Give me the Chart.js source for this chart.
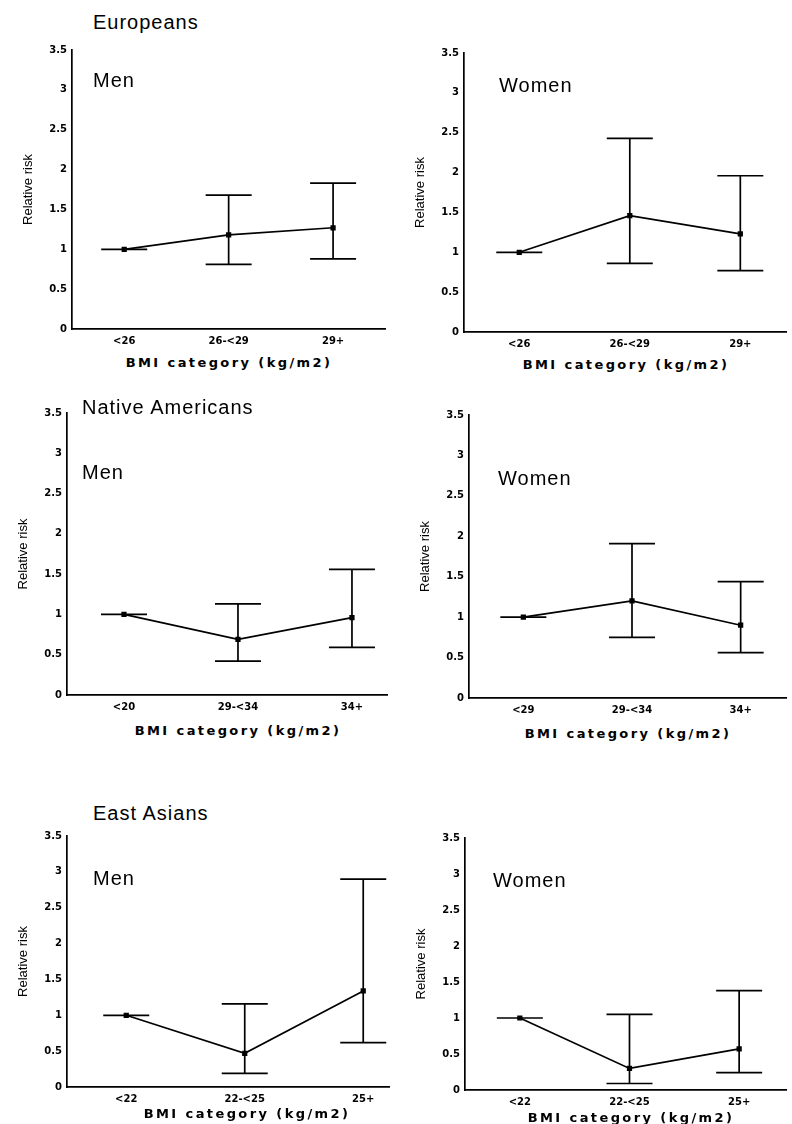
<!DOCTYPE html>
<html><head><meta charset="utf-8">
<script src="https://cdn.jsdelivr.net/npm/chart.js@4.4.1/dist/chart.umd.min.js"></script>
<style>
html,body{margin:0;padding:0;background:#fff;}
body{width:792px;height:1124px;position:relative;overflow:hidden;}
canvas{position:absolute;}
.t{position:absolute;font-family:"Liberation Sans",Arial,sans-serif;font-size:20px;color:#000;letter-spacing:1px;line-height:1;white-space:nowrap;transform:translateY(-50%);}
.xt{position:absolute;font-family:"DejaVu Sans",sans-serif;font-weight:bold;font-size:13px;letter-spacing:2.4px;color:#000;white-space:nowrap;transform:translate(-50%,-50%);line-height:1;}
</style></head><body>
<script>
// ---- data ----
const yTickValues = [0, 0.5, 1, 1.5, 2, 2.5, 3, 3.5];
const yTickLabels = ['0', '0.5', '1', '1.5', '2', '2.5', '3', '3.5'];

const eurCats = ['<26', '26-<29', '29+'];
const eurMenRR = [1.0, 1.18, 1.27];
const eurMenLo = [1.0, 0.81, 0.88];
const eurMenHi = [1.0, 1.68, 1.83];
const eurWomenRR = [1.0, 1.46, 1.23];
const eurWomenLo = [1.0, 0.86, 0.77];
const eurWomenHi = [1.0, 2.43, 1.96];

const naMenCats = ['<20', '29-<34', '34+'];
const naMenRR = [1.0, 0.69, 0.96];
const naMenLo = [1.0, 0.42, 0.59];
const naMenHi = [1.0, 1.13, 1.56];
const naWomenCats = ['<29', '29-<34', '34+'];
const naWomenRR = [1.0, 1.20, 0.90];
const naWomenLo = [1.0, 0.75, 0.56];
const naWomenHi = [1.0, 1.91, 1.44];

const eaCats = ['<22', '22-<25', '25+'];
const eaMenRR = [1.0, 0.47, 1.34];
const eaMenLo = [1.0, 0.19, 0.62];
const eaMenHi = [1.0, 1.16, 2.90];
const eaWomenRR = [1.0, 0.30, 0.57];
const eaWomenLo = [1.0, 0.09, 0.24];
const eaWomenHi = [1.0, 1.05, 1.38];

const xTitle = 'BMI category (kg/m2)';
const yTitle = 'Relative risk';

// ---- error bar plugin (uses chart scales) ----
const errorBars = {
  id: 'errorBars',
  afterDatasetsDraw(chart, args, opts) {
    const {ctx, scales: {x, y}} = chart;
    const cw = opts.capHalf || 23;
    chart.data.datasets.forEach(ds => {
      if (!ds.errLo) return;
      ctx.save();
      ctx.strokeStyle = '#000';
      ctx.lineWidth = 1.7;
      ds.errLo.forEach((lo, i) => {
        const hi = ds.errHi[i];
        const px = x.getPixelForValue(i);
        const pl = y.getPixelForValue(lo), ph = y.getPixelForValue(hi);
        ctx.beginPath();
        ctx.moveTo(px, pl); ctx.lineTo(px, ph);
        ctx.moveTo(px - cw, pl); ctx.lineTo(px + cw, pl);
        ctx.moveTo(px - cw, ph); ctx.lineTo(px + cw, ph);
        ctx.stroke();
      });
      ctx.restore();
    });
  }
};

function addText(cls, txt, left, top) {
  const d = document.createElement('div');
  d.className = cls; d.textContent = txt;
  d.style.left = left + 'px'; d.style.top = top + 'px';
  document.body.appendChild(d);
}

function makePanel(p) {
  const cv = document.createElement('canvas');
  cv.width = p.w; cv.height = p.h;
  cv.style.left = p.left + 'px'; cv.style.top = p.top + 'px';
  cv.style.width = p.w + 'px'; cv.style.height = p.h + 'px';
  document.body.appendChild(cv);
  new Chart(cv.getContext('2d'), {
    type: 'line',
    data: {
      datasets: [{
        data: p.rr.map((v, i) => ({x: i, y: v})),
        errLo: p.lo, errHi: p.hi,
        borderColor: '#000', borderWidth: 1.7,
        pointStyle: 'rect', pointRadius: 2.5,
        pointBackgroundColor: '#000', pointBorderColor: '#000',
        tension: 0, clip: false
      }]
    },
    options: {
      responsive: false, animation: false, devicePixelRatio: 1,
      layout: {padding: {top: 8, left: 0, right: 0, bottom: 0}},
      plugins: {legend: {display: false}, tooltip: {enabled: false}, errorBars: {capHalf: 23}},
      scales: {
        x: {
          type: 'linear', min: -0.5, max: p.xmax,
          afterBuildTicks: s => { s.ticks = [0, 1, 2].map(v => ({value: v})); },
          afterFit: s => { s.height = 24; },
          grid: {display: false, drawTicks: false},
          border: {display: true, color: '#000', width: 1.7},
          ticks: {
            color: '#000', padding: 6, maxRotation: 0, autoSkip: false,
            font: {family: 'DejaVu Sans', weight: 'bold', size: 10},
            callback: v => p.cats[v]
          }
        },
        y: {
          min: 0, max: 3.5,
          afterBuildTicks: s => { s.ticks = yTickValues.map(v => ({value: v})); },
          afterFit: s => { s.width = 55; },
          grid: {display: false, drawTicks: false},
          border: {display: true, color: '#000', width: 1.7},
          title: {display: true, text: yTitle, color: '#000',
            font: {family: '"Liberation Sans", Arial', size: 13}},
          ticks: {
            color: '#000', padding: 5,
            font: {family: 'DejaVu Sans', weight: 'bold', size: 10},
            callback: v => yTickLabels[yTickValues.indexOf(v)]
          }
        }
      }
    },
    plugins: [errorBars]
  });
  addText('xt', xTitle, p.xtX, p.xtY);
}

makePanel({left: 17, top: 39, w: 374, h: 314, xmax: 2.5, cats: eurCats, rr: eurMenRR, lo: eurMenLo, hi: eurMenHi, xtX: 229, xtY: 362});
makePanel({left: 409, top: 42, w: 383, h: 314, xmax: 2.416, cats: eurCats, rr: eurWomenRR, lo: eurWomenLo, hi: eurWomenHi, xtX: 626, xtY: 364});
makePanel({left: 12, top: 402, w: 381, h: 317, xmax: 2.31, cats: naMenCats, rr: naMenRR, lo: naMenLo, hi: naMenHi, xtX: 238, xtY: 730});
makePanel({left: 414, top: 404, w: 378, h: 318, xmax: 2.42, cats: naWomenCats, rr: naWomenRR, lo: naWomenLo, hi: naWomenHi, xtX: 628, xtY: 733});
makePanel({left: 12, top: 825, w: 383, h: 286, xmax: 2.22, cats: eaCats, rr: eaMenRR, lo: eaMenLo, hi: eaMenHi, xtX: 247, xtY: 1113});
makePanel({left: 410, top: 827, w: 382, h: 287, xmax: 2.43, cats: eaCats, rr: eaWomenRR, lo: eaWomenLo, hi: eaWomenHi, xtX: 631, xtY: 1117});

addText('t', 'Europeans', 93, 22);
addText('t', 'Men', 93, 80);
addText('t', 'Women', 499, 85);
addText('t', 'Native  Americans', 82, 407);
addText('t', 'Men', 82, 472);
addText('t', 'Women', 498, 478);
addText('t', 'East  Asians', 93, 813);
addText('t', 'Men', 93, 878);
addText('t', 'Women', 493, 880);
</script>
</body></html>
